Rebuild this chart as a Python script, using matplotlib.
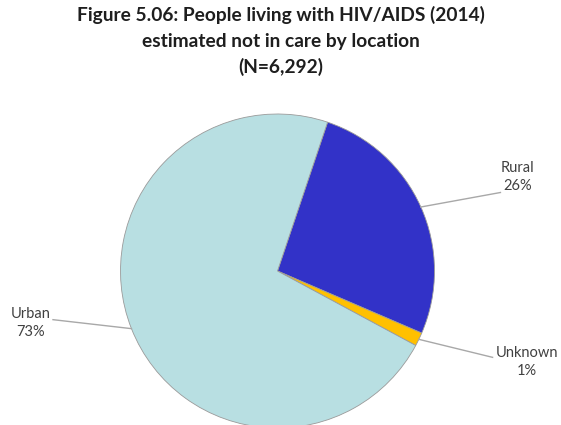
import numpy as np
import matplotlib
matplotlib.use("Agg")
import matplotlib.pyplot as plt

categories = ["Rural", "Unknown", "Urban"]
values = [26.3, 1.4, 72.3]
pct_labels = ["26%", "1%", "73%"]
colors = ["#3232C8", "#FFC000", "#B8DFE2"]

# label text positions and leader end points (axes data units, radius 1)
text_pos = [(1.53, 0.60), (1.59, -0.58), (-1.57, -0.33)]
line_end = [(1.42, 0.50), (1.37, -0.55), (-1.43, -0.31)]

plt.rcParams['font.family'] = ['Lato', 'DejaVu Sans']

fig = plt.figure(figsize=(5.61, 4.25), dpi=100)
W, H = 561, 425
cx, cy, r = 277.5, 271, 157
ax = fig.add_axes([(cx - r) / W, (H - cy - r) / H, 2 * r / W, 2 * r / H])

wedges, _ = ax.pie(values, colors=colors, startangle=90 - 18.6, counterclock=False,
                   radius=1, wedgeprops=dict(edgecolor="#9a9a9a", linewidth=0.6))
ax.set_xlim(-1, 1)
ax.set_ylim(-1, 1)
ax.set_aspect('equal')
ax.axis('off')

for w, cat, pct, tp, le in zip(wedges, categories, pct_labels, text_pos, line_end):
    ang = np.deg2rad((w.theta1 + w.theta2) / 2)
    x0, y0 = np.cos(ang), np.sin(ang)
    ax.plot([x0, le[0]], [y0, le[1]], color="#a8a8a8", lw=1.0, clip_on=False)
    ax.text(tp[0], tp[1], f"{cat}\n{pct}", ha="center", va="center", fontsize=10.5,
            color="#404040", linespacing=1.4, clip_on=False)

fig.text(0.5, 0.985, "Figure 5.06: People living with HIV/AIDS (2014)\nestimated not in care by location\n(N=6,292)",
         ha="center", va="top", fontsize=13.8, fontweight="bold", color="#1e1e1e", linespacing=1.58)

fig.savefig("out.png", dpi=100)
